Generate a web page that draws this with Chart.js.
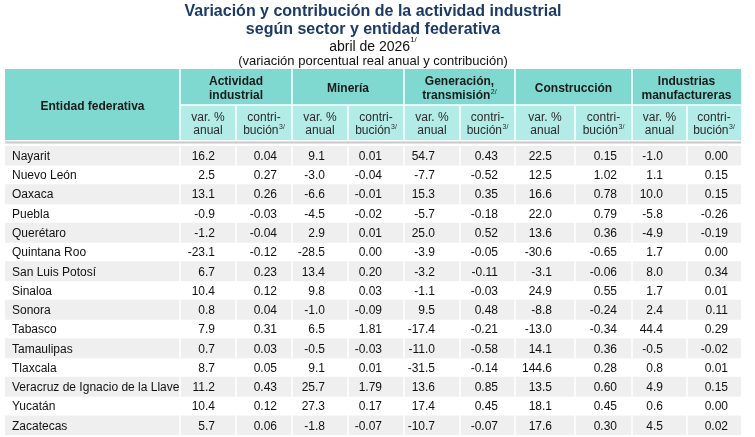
<!DOCTYPE html>
<html>
<head>
<meta charset="utf-8">
<script src="https://cdn.jsdelivr.net/npm/chart.js@4.4.1/dist/chart.umd.min.js"></script>
<style>
  body { margin: 0; background: #fff; }
  #wrap { position: relative; width: 755px; height: 437px; }
  #titulo { position: absolute; left: 0; top: 2px; width: 746px; text-align: center;
            font-family: "Liberation Sans", Arial, sans-serif; color: #111; z-index: 2; }
  #titulo .t { font-weight: bold; font-size: 16px; line-height: 18px; color: #1b3a66; }
  #titulo .f { font-size: 14px; line-height: 16px; }
  #titulo .u { font-size: 13px; line-height: 14px; }
  #titulo sup { font-size: 8px; position: relative; top: -2px; vertical-align: top; line-height: 8px; }
</style>
</head>
<body>
<div id="wrap">
  <div id="titulo">
    <div class="t">Variación y contribución de la actividad industrial</div>
    <div class="t">según sector y entidad federativa</div>
    <div class="f">abril de 2026<sup>1/</sup></div>
    <div class="u">(variación porcentual real anual y contribución)</div>
  </div>
  <canvas id="tabla"></canvas>
</div>
<script>
// entidades federativas (filas)
const estados = ['Nayarit', 'Nuevo León', 'Oaxaca', 'Puebla', 'Querétaro', 'Quintana Roo', 'San Luis Potosí',
  'Sinaloa', 'Sonora', 'Tabasco', 'Tamaulipas', 'Tlaxcala', 'Veracruz de Ignacio de la Llave', 'Yucatán', 'Zacatecas'];

// Actividad industrial
const actVar = [16.2, 2.5, 13.1, -0.9, -1.2, -23.1, 6.7, 10.4, 0.8, 7.9, 0.7, 8.7, 11.2, 10.4, 5.7];
const actCon = [0.04, 0.27, 0.26, -0.03, -0.04, -0.12, 0.23, 0.12, 0.04, 0.31, 0.03, 0.05, 0.43, 0.12, 0.06];
// Minería
const minVar = [9.1, -3.0, -6.6, -4.5, 2.9, -28.5, 13.4, 9.8, -1.0, 6.5, -0.5, 9.1, 25.7, 27.3, -1.8];
const minCon = [0.01, -0.04, -0.01, -0.02, 0.01, 0.00, 0.20, 0.03, -0.09, 1.81, -0.03, 0.01, 1.79, 0.17, -0.07];
// Generación, transmisión
const genVar = [54.7, -7.7, 15.3, -5.7, 25.0, -3.9, -3.2, -1.1, 9.5, -17.4, -11.0, -31.5, 13.6, 17.4, -10.7];
const genCon = [0.43, -0.52, 0.35, -0.18, 0.52, -0.05, -0.11, -0.03, 0.48, -0.21, -0.58, -0.14, 0.85, 0.45, -0.07];
// Construcción
const conVar = [22.5, 12.5, 16.6, 22.0, 13.6, -30.6, -3.1, 24.9, -8.8, -13.0, 14.1, 144.6, 13.5, 18.1, 17.6];
const conCon = [0.15, 1.02, 0.78, 0.79, 0.36, -0.65, -0.06, 0.55, -0.24, -0.34, 0.36, 0.28, 0.60, 0.45, 0.30];
// Industrias manufactureras
const manVar = [-1.0, 1.1, 10.0, -5.8, -4.9, 1.7, 8.0, 1.7, 2.4, 44.4, -0.5, 0.8, 4.9, 0.6, 4.5];
const manCon = [0.00, 0.15, 0.15, -0.26, -0.19, 0.00, 0.34, 0.01, 0.11, 0.29, -0.02, 0.01, 0.15, 0.00, 0.02];

const sectores = [['Actividad', 'industrial'], ['Minería'], ['Generación,', 'transmisión'], ['Construcción'], ['Industrias', 'manufactureras']];
const supSector = ['', '', '2/', '', ''];

const series = [actVar, actCon, minVar, minCon, genVar, genCon, conVar, conCon, manVar, manCon];

// geometria de la tabla (unidades del eje x)
const anchoTabla = 736;
const bordes = [0, 175, 231, 287, 343, 399, 455, 510, 570, 627, 682, 736];
const anclaNum = [210, 272, 320, 377, 430, 493, 547, 612, 658, 723];

const fuente = '"Liberation Sans", Arial, sans-serif';
const cGrupo = '#7fd9d1';
const cSub = '#b3ece7';

function texto(ctx, s, x, y, font, align, color) {
  ctx.font = font;
  ctx.textAlign = align;
  ctx.textBaseline = 'middle';
  ctx.fillStyle = color;
  ctx.fillText(s, x, y);
}

// texto centrado con superindice
function textoSup(ctx, s, sup, x, y, font, color) {
  ctx.font = font;
  const w1 = ctx.measureText(s).width;
  ctx.font = '7px ' + fuente;
  const w2 = sup ? ctx.measureText(sup).width + 0.5 : 0;
  const x0 = x - (w1 + w2) / 2;
  texto(ctx, s, x0, y, font, 'left', color);
  if (sup) texto(ctx, sup, x0 + w1 + 0.5, y - 4, '7px ' + fuente, 'left', color);
}

const tablaPlugin = {
  id: 'tabla',
  beforeDatasetsDraw(chart) {
    const { ctx, chartArea, scales: { x } } = chart;
    const top = chartArea.top;
    const hTop = top - 77, hMid = top - 41, hBot = top - 6;
    const L = x.getPixelForValue(0), R = x.getPixelForValue(anchoTabla);
    ctx.save();
    // fondo encabezado
    ctx.fillStyle = cGrupo;
    ctx.fillRect(L, hTop, R - L, hMid - hTop);
    ctx.fillRect(L, hMid, x.getPixelForValue(bordes[1]) - L, hBot - hMid);
    ctx.fillStyle = cSub;
    ctx.fillRect(x.getPixelForValue(bordes[1]), hMid, R - x.getPixelForValue(bordes[1]), hBot - hMid);
    // lineas blancas
    ctx.strokeStyle = '#ffffff';
    ctx.lineWidth = 1.5;
    ctx.beginPath();
    for (let i = 1; i < bordes.length - 1; i++) {
      const px = x.getPixelForValue(bordes[i]);
      ctx.moveTo(px, i % 2 === 1 ? hTop : hMid);
      ctx.lineTo(px, hBot);
    }
    ctx.moveTo(x.getPixelForValue(bordes[1]), hMid);
    ctx.lineTo(R, hMid);
    ctx.stroke();
    // linea gris bajo encabezado
    ctx.fillStyle = '#c6c9c9';
    ctx.fillRect(L, hBot + 1.5, R - L, 2);

    // textos encabezado
    texto(ctx, 'Entidad federativa', (L + x.getPixelForValue(bordes[1])) / 2, (hTop + hBot) / 2 + 2, 'bold 12px ' + fuente, 'center', '#1a1a1a');
    for (let g = 0; g < sectores.length; g++) {
      const cx = (x.getPixelForValue(bordes[1 + 2 * g]) + x.getPixelForValue(bordes[3 + 2 * g])) / 2;
      const lineas = sectores[g];
      const cy = (hTop + hMid) / 2 + 1.5;
      for (let k = 0; k < lineas.length; k++) {
        const ly = cy + (k - (lineas.length - 1) / 2) * 14.5;
        const sup = k === lineas.length - 1 ? supSector[g] : '';
        textoSup(ctx, lineas[k], sup, cx, ly, 'bold 12px ' + fuente, '#1a1a1a');
      }
      for (let s = 0; s < 2; s++) {
        const c = 1 + 2 * g + s;
        const sx = (x.getPixelForValue(bordes[c]) + x.getPixelForValue(bordes[c + 1])) / 2;
        const sy = (hMid + hBot) / 2 + 1.5;
        if (s === 0) {
          texto(ctx, 'var. %', sx, sy - 6.5, '12px ' + fuente, 'center', '#2a2a2a');
          texto(ctx, 'anual', sx, sy + 7, '12px ' + fuente, 'center', '#2a2a2a');
        } else {
          texto(ctx, 'contri-', sx, sy - 6.5, '12px ' + fuente, 'center', '#2a2a2a');
          textoSup(ctx, 'bución', '3/', sx, sy + 7, '12px ' + fuente, '#2a2a2a');
        }
      }
    }
    ctx.restore();
  },
  afterDatasetsDraw(chart) {
    const { ctx, chartArea, scales: { x, y } } = chart;
    ctx.save();
    ctx.strokeStyle = '#ffffff';
    ctx.lineWidth = 1.5;
    ctx.beginPath();
    for (let i = 1; i < bordes.length - 1; i++) {
      const px = x.getPixelForValue(bordes[i]);
      ctx.moveTo(px, chartArea.top);
      ctx.lineTo(px, chartArea.bottom);
    }
    ctx.stroke();
    estados.forEach((e, i) => {
      const py = y.getPixelForValue(i) + 1;
      texto(ctx, e, x.getPixelForValue(0) + 7, py, '12px ' + fuente, 'left', '#111');
      series.forEach((serie, c) => {
        const v = serie[i].toFixed(c % 2 === 0 ? 1 : 2);
        texto(ctx, v, x.getPixelForValue(anclaNum[c]), py, '12px ' + fuente, 'right', '#111');
      });
    });
    ctx.restore();
  }
};

new Chart(document.getElementById('tabla'), {
  type: 'bar',
  data: {
    labels: estados,
    datasets: [{
      // franjas grises en filas alternas
      data: estados.map((e, i) => i % 2 === 0 ? [0, anchoTabla] : null),
      backgroundColor: '#efefef',
      borderWidth: 0,
      barPercentage: 1,
      categoryPercentage: 1
    }]
  },
  options: {
    indexAxis: 'y',
    responsive: true,
    maintainAspectRatio: false,
    animation: false,
    layout: { padding: { left: 5, right: 14, top: 146, bottom: 2 } },
    plugins: { legend: { display: false }, tooltip: { enabled: false }, title: { display: false } },
    scales: {
      x: { type: 'linear', min: 0, max: anchoTabla, display: false },
      y: { type: 'category', display: false, grid: { display: false } }
    }
  },
  plugins: [tablaPlugin]
});
</script>
</body>
</html>
